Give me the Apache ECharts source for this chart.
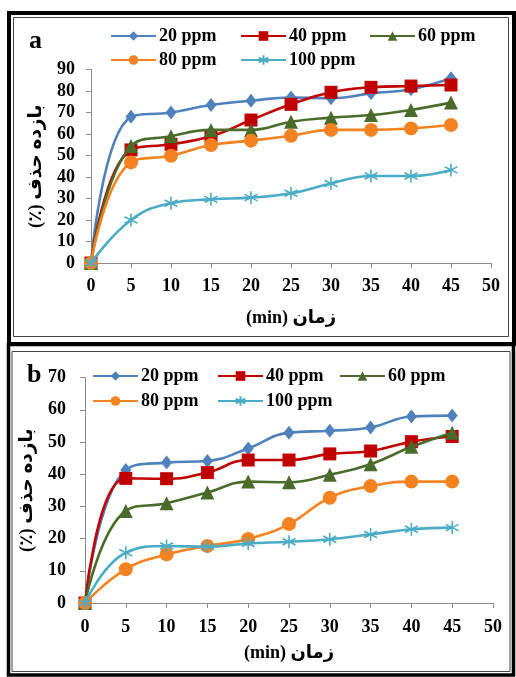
<!DOCTYPE html>
<html>
<head>
<meta charset="utf-8">
<script src="https://cdn.jsdelivr.net/npm/echarts@6/dist/echarts.min.js"></script>
<style>html,body{margin:0;padding:0;background:#fff;}#c{width:516px;height:677px;}</style>
</head>
<body>
<div id="c"></div>
<script>
// ---- data ----
const times = [0, 5, 10, 15, 20, 25, 30, 35, 40, 45];
const seriesNames = ['20 ppm', '40 ppm', '60 ppm', '80 ppm', '100 ppm'];
// panel a
const a20  = [0, 68.0, 70.0, 73.5, 75.5, 77.0, 76.6, 78.9, 80.8, 85.9];
const a40  = [0, 52.6, 55.2, 58.9, 66.5, 73.8, 79.4, 81.7, 82.3, 82.8];
const a60  = [0, 54.4, 59.0, 61.9, 61.9, 65.7, 67.6, 68.8, 71.2, 74.6];
const a80  = [0, 46.8, 49.9, 54.9, 56.9, 59.2, 61.9, 61.9, 62.6, 64.2];
const a100 = [0, 20.0, 27.8, 29.6, 30.4, 32.4, 37.0, 40.5, 40.5, 43.3];
// panel b
const b20  = [0, 41.3, 43.6, 44.1, 48.0, 52.9, 53.5, 54.5, 57.9, 58.2];
const b40  = [0, 38.7, 38.6, 40.5, 44.4, 44.4, 46.3, 47.2, 50.1, 51.7];
const b60  = [0, 28.6, 31.0, 34.3, 37.7, 37.5, 39.8, 43.1, 48.5, 52.9];
const b80  = [0, 10.5, 15.1, 17.7, 19.9, 24.5, 32.7, 36.3, 37.7, 37.7];
const b100 = [0, 15.6, 17.7, 17.5, 18.5, 19.0, 19.8, 21.3, 22.9, 23.4];
const xTicks = { min: 0, max: 50, interval: 5 };
const yTicksA = { min: 0, max: 90, interval: 10 };
const yTicksB = { min: 0, max: 70, interval: 10 };
const panelLabels = ['a', 'b'];
const xName = '\u202Bزمان (min)\u202C';
const yName = '\u202Bبازده حذف (٪)\u202C';

// ---- styles ----
const FONT = "'Liberation Serif', 'Times New Roman', 'DejaVu Sans', serif";
const AXIS_GREY = '#8c8c8c';
const styles = [
  { color: '#4F81BD', symbol: 'diamond', size: [11, 14] },
  { color: '#C00000', symbol: 'rect', size: 13 },
  { color: '#4A6B2A', symbol: 'triangle', size: 14 },
  { color: '#F58220', symbol: 'circle', size: 14 },
  { color: '#4BACC6', symbol: 'path://M5,0L5,10M0.7,2.5L9.3,7.5M9.3,2.5L0.7,7.5', size: 13 }
];

function mkSeries(vals, i, gi) {
  const s = styles[i];
  const isStar = i === 4;
  return {
    type: 'line',
    name: seriesNames[i],
    xAxisIndex: gi, yAxisIndex: gi,
    data: times.map((t, k) => [t, vals[k]]),
    smooth: 0.45,
    symbol: s.symbol,
    symbolSize: s.size,
    showAllSymbol: true,
    lineStyle: { color: s.color, width: 2.6 },
    itemStyle: isStar ? { color: 'rgba(0,0,0,0)', borderColor: s.color, borderWidth: 1.6 } : { color: s.color, borderWidth: 0 },
    emphasis: { disabled: true },
    animation: false,
    z: 2 + i
  };
}

function mkX(gi, margin, gap) {
  return {
    type: 'value', gridIndex: gi, min: xTicks.min, max: xTicks.max, interval: xTicks.interval,
    name: xName, nameLocation: 'middle', nameGap: gap,
    nameTextStyle: { fontFamily: FONT, fontWeight: 'bold', fontSize: 18, color: '#000' },
    axisLine: { show: true, lineStyle: { color: AXIS_GREY, width: 1 } },
    axisTick: { show: true, length: 5, lineStyle: { color: AXIS_GREY } },
    axisLabel: { margin: margin, fontFamily: FONT, fontWeight: 'bold', fontSize: 18, color: '#000' },
    splitLine: { show: false }
  };
}
function mkY(gi, t, margin, gap) {
  return {
    type: 'value', gridIndex: gi, min: t.min, max: t.max, interval: t.interval,
    name: yName, nameLocation: 'middle', nameGap: gap, nameRotate: 90,
    nameTextStyle: { fontFamily: FONT, fontWeight: 'bold', fontSize: 18.5, color: '#000' },
    axisLine: { show: true, lineStyle: { color: AXIS_GREY, width: 1 } },
    axisTick: { show: true, length: 5, lineStyle: { color: AXIS_GREY } },
    axisLabel: { margin: margin, fontFamily: FONT, fontWeight: 'bold', fontSize: 18, color: '#000' },
    splitLine: { show: false }
  };
}

function mkLegend(name, left, cy) {
  return {
    data: [name], left: left, top: cy - 9, itemWidth: 45, itemHeight: 12, itemGap: 0,
    textStyle: { fontFamily: FONT, fontWeight: 'bold', fontSize: 18, color: '#000', padding: [0, 0, 0, -2] },
    selectedMode: false, padding: 0
  };
}

const option = {
  backgroundColor: '#fff',
  animation: false,
  grid: [
    { left: 91, right: 25, top: 69.5, bottom: 414 },
    { left: 85, right: 23, top: 377.6, bottom: 74 }
  ],
  xAxis: [mkX(0, 14, 46), mkX(1, 15, 41)],
  yAxis: [mkY(0, yTicksA, 16, 43), mkY(1, yTicksB, 19, 41)],
  legend: [
    mkLegend(seriesNames[0], 110, 36), mkLegend(seriesNames[1], 240, 36), mkLegend(seriesNames[2], 369, 36),
    mkLegend(seriesNames[3], 110, 60), mkLegend(seriesNames[4], 240, 60),
    mkLegend(seriesNames[0], 92, 376), mkLegend(seriesNames[1], 217, 376), mkLegend(seriesNames[2], 339, 376),
    mkLegend(seriesNames[3], 92, 401), mkLegend(seriesNames[4], 217, 401)
  ],
  series: [
    mkSeries(a20, 0, 0), mkSeries(a40, 1, 0), mkSeries(a60, 2, 0), mkSeries(a80, 3, 0), mkSeries(a100, 4, 0),
    mkSeries(b20, 0, 1), mkSeries(b40, 1, 1), mkSeries(b60, 2, 1), mkSeries(b80, 3, 1), mkSeries(b100, 4, 1)
  ],
  graphic: [
    { type: 'rect', shape: { x: 9, y: 13, width: 505, height: 331 }, style: { fill: 'none', stroke: '#000', lineWidth: 4 }, silent: true },
    { type: 'rect', shape: { x: 13.5, y: 17.5, width: 495, height: 319 }, style: { fill: 'none', stroke: '#444', lineWidth: 1 }, silent: true },
    { type: 'rect', shape: { x: 8.5, y: 344.5, width: 505, height: 330.5 }, style: { fill: 'none', stroke: '#000', lineWidth: 3.5 }, silent: true },
    { type: 'rect', shape: { x: 12, y: 351.5, width: 498, height: 320 }, style: { fill: 'none', stroke: '#444', lineWidth: 1 }, silent: true },
    { type: 'text', left: 29, top: 28, style: { text: panelLabels[0], font: "bold 26px " + FONT, fill: '#000' } },
    { type: 'text', left: 27, top: 362, style: { text: panelLabels[1], font: "bold 26px " + FONT, fill: '#000' } }
  ]
};

const chart = echarts.init(document.getElementById('c'), null, { renderer: 'canvas' });
chart.setOption(option);
</script>
</body>
</html>
